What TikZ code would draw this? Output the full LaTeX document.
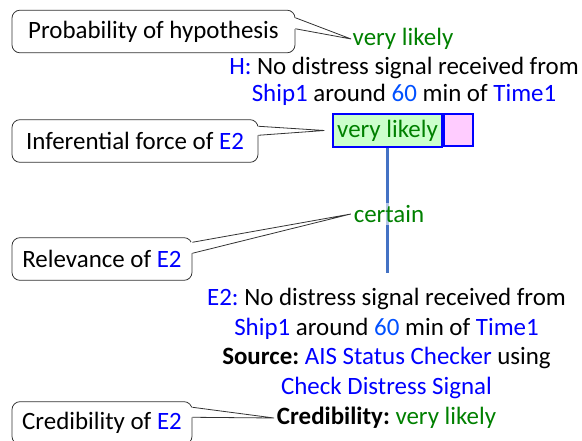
\documentclass[tikz,border=0pt]{standalone}
\usepackage{fontspec}
\setmainfont{Carlito}
\usetikzlibrary{calc, positioning}

\definecolor{entblue}{RGB}{0,0,255}
\definecolor{numblue}{RGB}{0,80,255}
\definecolor{rategreen}{RGB}{0,128,0}
\definecolor{linkblue}{RGB}{68,114,196}
\definecolor{forcegreen}{RGB}{204,255,204}
\definecolor{forcepink}{RGB}{255,204,255}

\newcommand{\ent}[1]{\textcolor{entblue}{#1}}
\newcommand{\numv}[1]{\textcolor{numblue}{#1}}
\newcommand{\rate}[1]{\textcolor{rategreen}{#1}}
\frenchspacing

\begin{document}
\begin{tikzpicture}[x=0.75pt, y=-0.75pt, font=\fontsize{18.7}{22}\selectfont]
\tikzset{
  callbox/.style={draw=black!80, line width=0.6pt, rounded corners=6pt, minimum height=32pt, inner sep=0pt},
  tail/.style={draw=black!80, line width=0.6pt},
  ratelbl/.style={text=rategreen, inner sep=1pt},
  stmt/.style={align=center, inner sep=0pt},
}
\useasboundingbox (0,0) rectangle (582,440);

% hypothesis
\node[ratelbl] (hprob) at (403,39) {very likely};
\node[stmt, font=\fontsize{18.7}{20.3}\selectfont] (hyp) at (404,81)
  {\ent{H:} No distress signal received from\\ \ent{Ship1} around \numv{60} min of \ent{Time1}};
\node[draw=entblue, thick, fill=forcegreen, text=rategreen, minimum width=81.75pt, minimum height=24.75pt, inner sep=0pt] (force) at (387.5,130.5) {very likely};
\node[draw=entblue, thick, fill=forcepink, minimum width=21.75pt, minimum height=24pt, inner sep=0pt] (pink) at (458.5,130) {};

% evidence
\node[stmt, font=\fontsize{18.7}{22.3}\selectfont] (evid) at (386.5,343.5)
  {\ent{E2:} No distress signal received from\\ \ent{Ship1} around \numv{60} min of \ent{Time1}\\
   \textbf{Source:} \ent{AIS Status Checker} using\\ \ent{Check Distress Signal}};
\node[inner sep=2pt] (cred) at (386.5,418) {\textbf{Credibility:} \rate{very likely}};
\coordinate (lineend) at (force.south |- 0,273);

\draw[linkblue, line width=2.25pt] (force.south) -- (lineend);
\node[ratelbl, inner sep=2pt, fill=white, fill opacity=0.6, text opacity=1] (rel) at (389,214) {certain};

% callouts
\node[callbox, minimum width=212.25pt] (pbox) at (153.5,31.5) {Probability of hypothesis};
\node[callbox, minimum width=184.5pt] (fbox) at (135,141) {Inferential force of \ent{E2}};
\node[callbox, minimum width=135pt] (rbox) at (102,259) {Relevance of \ent{E2}};
\node[callbox, minimum width=135pt] (cbox) at (102,423) {Credibility of \ent{E2}};

\fill[white] ([shift={(-1pt,-6pt)}]pbox.north east) -- (hprob.west) -- ([shift={(-1pt,-14.25pt)}]pbox.north east) -- cycle;
\draw[tail] ([yshift=-6pt]pbox.north east) -- (hprob.west) -- ([yshift=-14.25pt]pbox.north east);
\fill[white] ([shift={(-1pt,-5.25pt)}]fbox.north east) -- ([xshift=-6pt]force.west) -- ([shift={(-1pt,-12pt)}]fbox.north east) -- cycle;
\draw[tail] ([yshift=-5.25pt]fbox.north east) -- ([xshift=-6pt]force.west) -- ([yshift=-12pt]fbox.north east);
\fill[white] ([shift={(-1pt,-3.75pt)}]rbox.north east) -- (rel.west) -- ([shift={(-1pt,-12pt)}]rbox.north east) -- cycle;
\draw[tail] ([yshift=-3.75pt]rbox.north east) -- (rel.west) -- ([yshift=-12pt]rbox.north east);
\fill[white] ([shift={(-1pt,-4.5pt)}]cbox.north east) -- (cred.west) -- ([shift={(-1pt,-12pt)}]cbox.north east) -- cycle;
\draw[tail] ([yshift=-4.5pt]cbox.north east) -- (cred.west) -- ([yshift=-12pt]cbox.north east);
\end{tikzpicture}
\end{document}
